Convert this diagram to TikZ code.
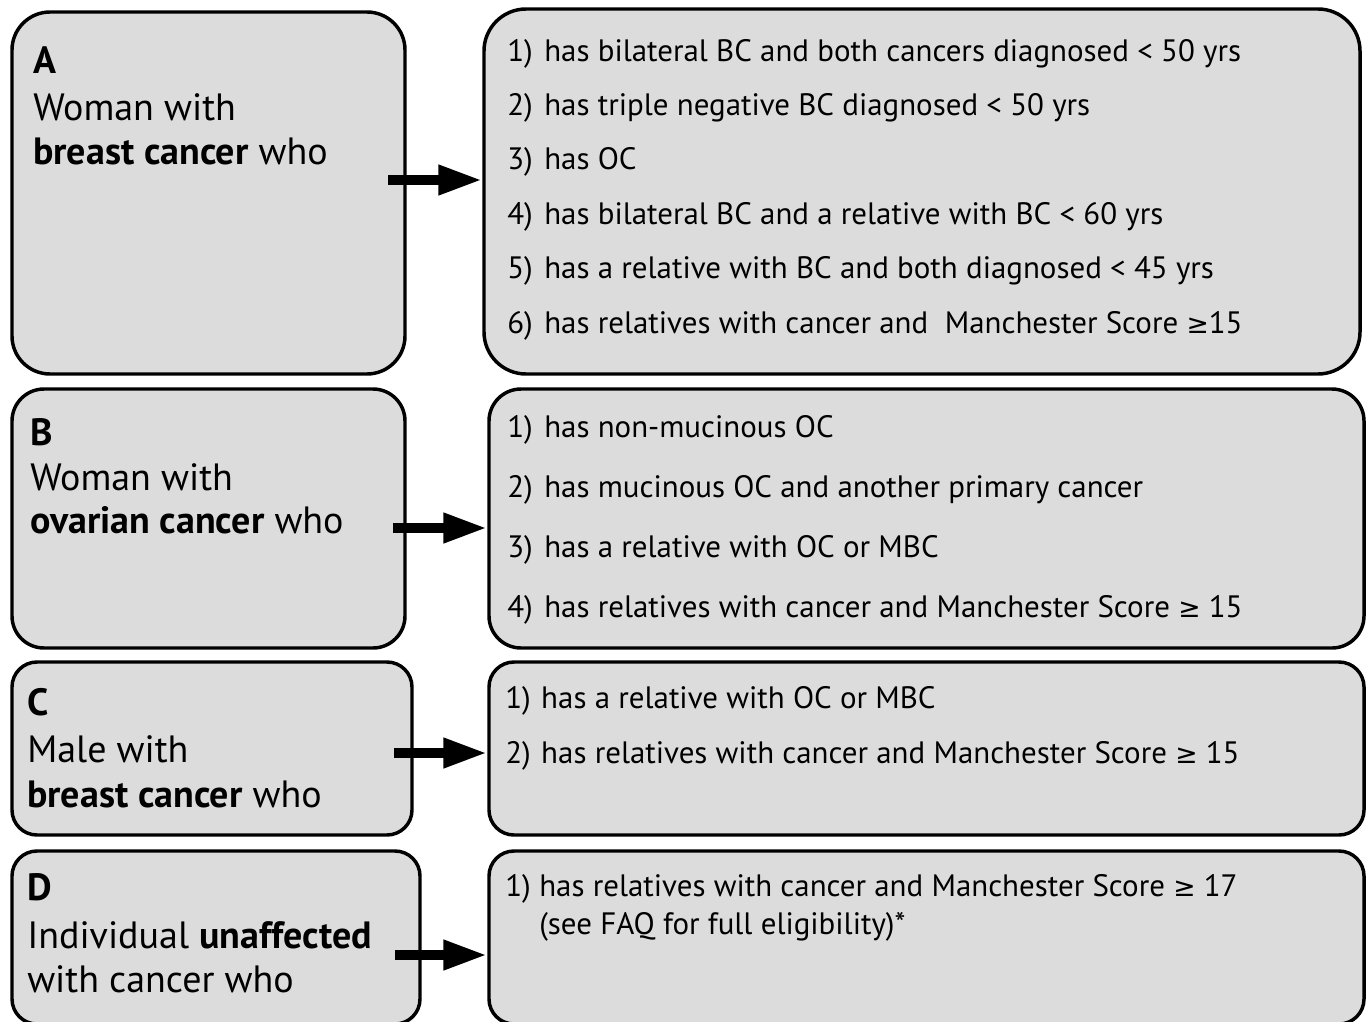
\documentclass[tikz,border=0pt]{standalone}
\usepackage{fontspec}
\setmainfont{PT Sans}
\newfontfamily\symfont{DejaVu Sans}
\newcommand\geqsym{{\symfont\fontsize{20}{24}\selectfont ≥}}
\usetikzlibrary{arrows.meta}
\definecolor{boxgray}{RGB}{220,220,220}
\tikzset{
  box/.style={draw, fill=boxgray, line width=2.6pt, inner sep=0pt},
  lbl/.style={anchor=base west, inner sep=0pt, font=\fontsize{28.5}{34}\selectfont},
  item/.style={anchor=base west, inner sep=0pt, font=\fontsize{23.2}{28}\selectfont},
  fat/.style={line width=7.5pt, -{Triangle[length=33pt,width=21pt]}}
}
\begin{document}
\begin{tikzpicture}[x=0.75pt,y=0.75pt,yscale=-1,xscale=1]
		\useasboundingbox (0,0) rectangle (1370,1021);

		% Boxes
		\node [box, rounded corners=28.5pt, minimum width=294.75pt, minimum height=271.5pt] (leftA) at (208.5,193) {};
		\node [box, rounded corners=31.5pt, minimum width=657pt, minimum height=273.75pt] (rightA) at (922,191.5) {};
		\node [box, rounded corners=24pt, minimum width=294.75pt, minimum height=194.25pt] (leftB) at (208.5,518.5) {};
		\node [box, rounded corners=24pt, minimum width=656.25pt, minimum height=194.25pt] (rightB) at (926.5,518.5) {};
		\node [box, rounded corners=18.75pt, minimum width=300pt, minimum height=129.75pt] (leftC) at (212,748.5) {};
		\node [box, rounded corners=18.75pt, minimum width=656.25pt, minimum height=129.75pt] (rightC) at (926.5,748.5) {};
		\node [box, rounded corners=18.75pt, minimum width=306pt, minimum height=129.75pt] (leftD) at (216,937.5) {};
		\node [box, rounded corners=18.75pt, minimum width=656.25pt, minimum height=129.75pt] (rightD) at (926.5,937.5) {};

		% Left labels
		\node [lbl] (headA) at (33,73) {\textbf{A}};
		\node [lbl] (textA1) at (33,120) {Woman with};
		\node [lbl] (textA2) at (33,164) {\textbf{breast cancer} who};
		\node [lbl] (headB) at (30,445) {\textbf{B}};
		\node [lbl] (textB1) at (30,490) {Woman with};
		\node [lbl] (textB2) at (30,533) {\textbf{ovarian cancer} who};
		\node [lbl] (headC) at (27,715) {\textbf{C}};
		\node [lbl] (textC1) at (27,762) {Male with};
		\node [lbl] (textC2) at (27,807) {\textbf{breast cancer} who};
		\node [lbl] (headD) at (27,900) {\textbf{D}};
		\node [lbl] (textD1) at (27,948) {Individual \textbf{unaffected}};
		\node [lbl] (textD2) at (27,992) {with cancer who};

		% Criteria
		\foreach \t [count=\i] in {has bilateral BC and both cancers diagnosed < 50 yrs, has triple negative BC diagnosed < 50 yrs, has OC, has bilateral BC and a relative with BC < 60 yrs, has a relative with BC and both diagnosed < 45 yrs, has relatives with cancer and~ Manchester Score \geqsym15}
			\node [item] (itemA\i) at (507,{61+54.4*(\i-1)}) {\makebox[27.75pt][l]{\i)}\t};
		\foreach \t [count=\i] in {has non-mucinous OC, has mucinous OC and another primary cancer, has a relative with OC or MBC, has relatives with cancer and Manchester Score \geqsym{} 15}
			\node [item] (itemB\i) at (507,{437+60*(\i-1)}) {\makebox[27.75pt][l]{\i)}\t};
		\foreach \t [count=\i] in {has a relative with OC or MBC, has relatives with cancer and Manchester Score \geqsym{} 15}
			\node [item] (itemC\i) at (505,{708+55*(\i-1)}) {\makebox[27pt][l]{\i)}\t};
		\node [item] (itemD1) at (505,896) {\makebox[25.5pt][l]{1)}has relatives with cancer and Manchester Score \geqsym{} 17};
		\node [item] (itemD2) at (539,934) {(see FAQ for full eligibility)*};

		% Arrows
		\coordinate (startA) at (388,180);
		\coordinate (startB) at (393,528);
		\coordinate (startC) at (394,753);
		\coordinate (startD) at (395,955);
		\draw [fat] (startA) -- (startA -| rightA.west);
		\draw [fat] (startB) -- (startB -| rightB.west);
		\draw [fat] (startC) -- (startC -| rightC.west);
		\draw [fat] (startD) -- (startD -| rightD.west);

\end{tikzpicture}
\end{document}
